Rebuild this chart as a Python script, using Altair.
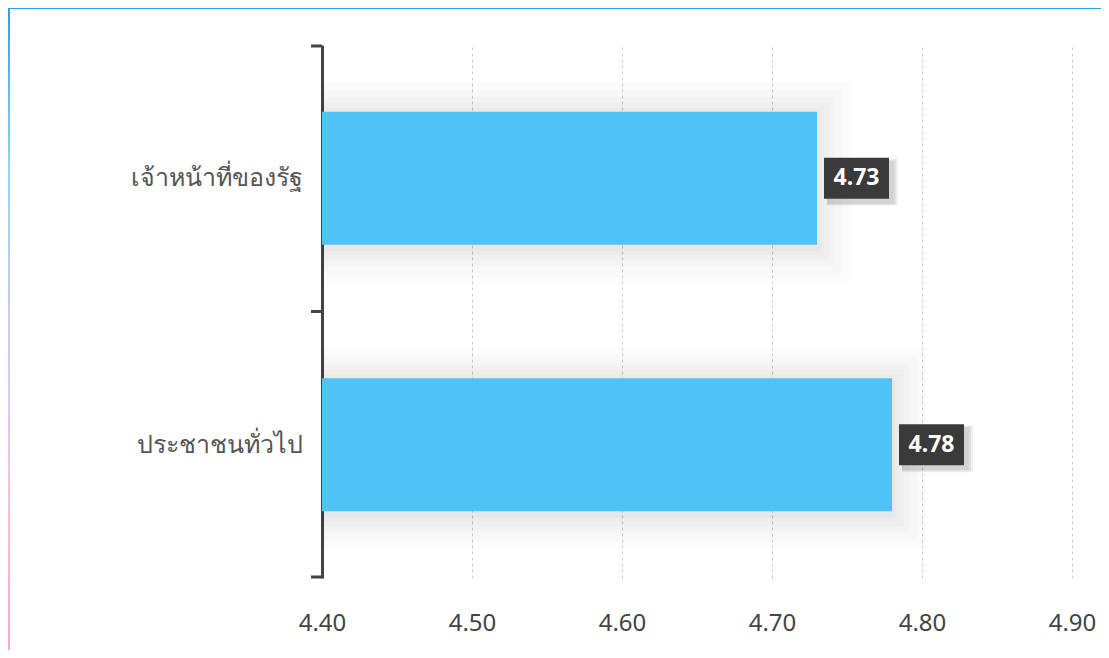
import altair as alt
import pandas as pd

categories = ["เจ้าหน้าที่ของรัฐ", "ประชาชนทั่วไป"]
values = [4.73, 4.78]
labels = ["4.73", "4.78"]

df = pd.DataFrame({"cat": categories, "val": values, "lab": labels})

W, H = 750, 533
PL, PT, PR, PB = 314, 37, 29, 72

y_enc = alt.Y("cat:N", sort=categories, title=None,
              scale=alt.Scale(paddingInner=0.5, paddingOuter=0.25),
              axis=alt.Axis(domainColor="#444444", domainWidth=3, ticks=False,
                            labelFontSize=25, labelColor="#555555", labelFont="Noto Sans",
                            labelPadding=20, grid=False, labelFontWeight="normal"))
x_scale = alt.Scale(domain=[4.4, 4.9], nice=False, zero=False)
x_enc = alt.X("val:Q", scale=x_scale, title=None,
              axis=alt.Axis(values=[4.4, 4.5, 4.6, 4.7, 4.8, 4.9], format=".2f",
                            domain=False, ticks=False, labelFontSize=24, labelColor="#444444",
                            labelFont="Noto Sans", labelPadding=33, labelFlush=False,
                            labelOverlap=False, grid=True,
                            gridColor="#cccccc", gridDash=[3, 3], gridWidth=1))

base = alt.Chart(df)

layers = []
# soft shadows
for k in [3, 7, 12, 18, 25, 33]:
    layers.append(base.mark_bar(color="#000000", opacity=0.016, size=133 + 2 * k,
                                xOffset=k, yOffset=3, clip=True)
                  .encode(x=alt.X("val:Q", scale=x_scale), x2=alt.value(0), y=y_enc))

bars = base.mark_bar(color="#4fc3f7", size=133, clip=True).encode(x=x_enc, x2=alt.value(0), y=y_enc)
layers.append(bars)

# label box shadow
for k in [2, 4, 6]:
    layers.append(base.mark_bar(color="#000000", opacity=0.06, size=41 + k,
                                xOffset=7 + 3, x2Offset=72 + 3 + k, yOffset=4)
                  .encode(x="val:Q", x2="val:Q", y=y_enc))
box = base.mark_bar(color="#3a3a3a", size=41, xOffset=7, x2Offset=72).encode(
    x="val:Q", x2="val:Q", y=y_enc)
layers.append(box)
txt = base.mark_text(color="white", fontWeight="bold", fontSize=23, font="Noto Sans",
                     dx=39.5, align="center", baseline="middle").encode(
    x="val:Q", y=y_enc, text="lab:N")
layers.append(txt)

# bracket ticks at band boundaries
for yy in [1, H / 2, H - 1]:
    layers.append(alt.Chart(df.head(1)).mark_rule(color="#444444", strokeWidth=3).encode(
        x=alt.value(-11), x2=alt.value(0), y=alt.value(yy)))

# frame lines
layers.append(alt.Chart(df.head(1)).mark_rect(
    color=alt.Gradient(gradient="linear", x1=0, x2=0, y1=0, y2=1,
                       stops=[alt.GradientStop(color="#1aa7ec", offset=0),
                              alt.GradientStop(color="#8fd6fa", offset=0.25),
                              alt.GradientStop(color="#c4c8f7", offset=0.45),
                              alt.GradientStop(color="#e4c7f2", offset=0.62),
                              alt.GradientStop(color="#ffbde0", offset=0.78),
                              alt.GradientStop(color="#ffa5cf", offset=1)])).encode(
    x=alt.value(-PL), x2=alt.value(-PL + 2), y=alt.value(-PT), y2=alt.value(H + PB)))
layers.append(alt.Chart(df.head(1)).mark_rect(color="#22a7e6").encode(
    x=alt.value(-PL), x2=alt.value(W + PR), y=alt.value(-PT), y2=alt.value(-PT + 1)))

chart = alt.layer(*layers).properties(
    width=W, height=H,
    autosize=alt.AutoSizeParams(type="none"),
    padding={"left": PL, "top": PT, "right": PR, "bottom": PB},
).configure_view(stroke=None)

chart.save("out.html", embed_options={"renderer": "svg", "actions": False})
